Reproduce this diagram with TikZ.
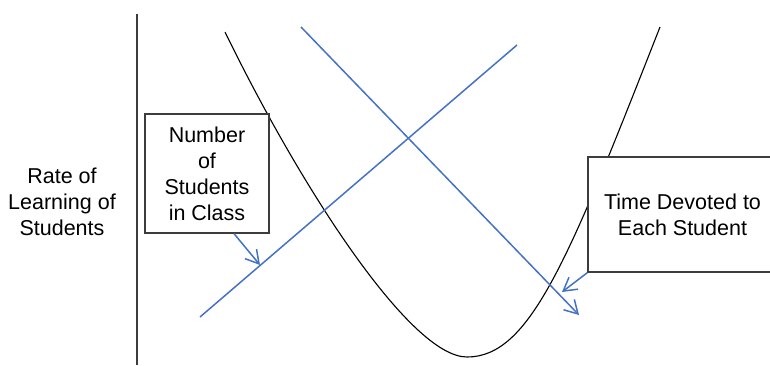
\documentclass[tikz,border=0pt]{standalone}
\usepackage{fontspec}
\setmainfont{Liberation Sans}
\usetikzlibrary{arrows.meta}
\definecolor{blueline}{RGB}{68,114,196}
\definecolor{boxgray}{RGB}{60,60,60}
\begin{document}
\begin{tikzpicture}[x=1pt,y=-1pt,
  lbl/.style={font=\fontsize{21.5}{26}\selectfont, align=center, inner sep=0pt},
  txtbox/.style={lbl, draw=boxgray, line width=1.3pt, fill=white},
  blueln/.style={draw=blueline, line width=1.5pt},
  bluearrow/.style={blueln, -{Straight Barb[length=13pt,width=15pt]}},
  curveln/.style={draw=black, line width=1.1pt},
  axisln/.style={draw=boxgray, line width=1.3pt}]
\useasboundingbox (0,0) rectangle (770,365);
\clip (0,0) rectangle (770,365);
% axis
\coordinate (axistop) at (137,14);
\coordinate (axisbot) at (137,365);
\draw[axisln] (axistop) -- (axisbot);
\node[lbl] (ylabel) at (62,201.5) {Rate of\\Learning of\\Students};
% U-shaped curve
\coordinate (cstart) at (225,32);
\coordinate (cmin) at (467,357);
\coordinate (cend) at (660,27);
\draw[curveln] (cstart) .. controls (300,186) and (410,357) .. (cmin)
  .. controls (530,357) and (568,261) .. (cend);
% blue lines
\coordinate (riseA) at (200,317);
\coordinate (riseB) at (517,45);
\draw[blueln] (riseA) -- (riseB);
\coordinate (fallA) at (301,27);
\coordinate (fallB) at (579,315);
\draw[bluearrow] (fallA) -- (fallB);
% boxes
\node[txtbox, minimum width=124pt, minimum height=119pt] (box1) at (207,173.5)
  {Number\\of\\Students\\in Class};
\node[txtbox, minimum width=189pt, minimum height=115pt] (box2) at (682.5,214.5)
  {Time Devoted to\\Each Student};
% pointer arrows
\coordinate (p1) at (260,265);
\coordinate (p2) at (562,292);
\draw[bluearrow] ([xshift=27pt]box1.south) -- (p1);
\draw[bluearrow] (box2.south west) -- (p2);
\end{tikzpicture}
\end{document}
